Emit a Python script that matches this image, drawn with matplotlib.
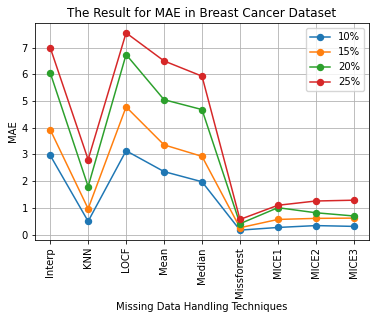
import matplotlib
matplotlib.use("Agg")
import matplotlib.pyplot as plt

methods = ["Interp", "KNN", "LOCF", "Mean", "Median", "Missforest", "MICE1", "MICE2", "MICE3"]
mae_10 = [2.97, 0.50, 3.14, 2.36, 1.98, 0.17, 0.27, 0.34, 0.31]
mae_15 = [3.93, 0.97, 4.78, 3.36, 2.93, 0.26, 0.57, 0.61, 0.62]
mae_20 = [6.06, 1.80, 6.74, 5.05, 4.68, 0.41, 1.01, 0.82, 0.70]
mae_25 = [7.00, 2.81, 7.55, 6.50, 5.93, 0.57, 1.10, 1.26, 1.29]
series = {"10%": mae_10, "15%": mae_15, "20%": mae_20, "25%": mae_25}

s = 0.72
plt.rcParams.update({
    "font.size": 10 * s,
    "axes.linewidth": 0.8 * s,
    "grid.linewidth": 0.8 * s,
    "xtick.major.width": 0.8 * s,
    "ytick.major.width": 0.8 * s,
    "xtick.major.size": 3.5 * s,
    "ytick.major.size": 3.5 * s,
    "xtick.major.pad": 3.5 * s,
    "ytick.major.pad": 3.5 * s,
    "lines.linewidth": 1.5 * s,
    "lines.markersize": 6 * s,
    "legend.fontsize": 10 * s,
})

fig, ax = plt.subplots(figsize=(3.76, 3.19), dpi=100)
for label, vals in series.items():
    ax.plot(methods, vals, marker="o", label=label)
ax.set_title("The Result for MAE in Breast Cancer Dataset", fontsize=12 * s, pad=6 * s)
ax.set_xlabel("Missing Data Handling Techniques", labelpad=4 * s)
ax.set_ylabel("MAE", labelpad=4 * s)
ax.tick_params(axis="x", rotation=90)
ax.grid(True)
ax.legend()
fig.subplots_adjust(left=35 / 376, right=369 / 376, top=1 - 23 / 319, bottom=1 - 240 / 319)
fig.savefig("out.png", dpi=100)
